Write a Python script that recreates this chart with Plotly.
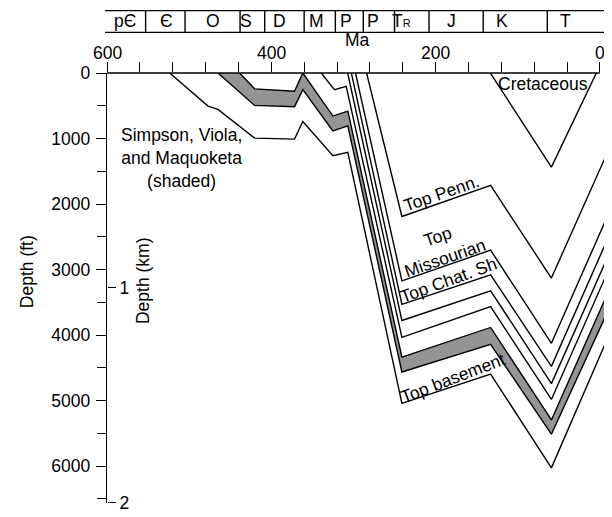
import plotly.graph_objects as go

# ---------------- data (Ma, depth in ft) ----------------
cret_age = [133.3, 59, 4.3]
cret_depth = [0, 1437, 0]

penn_age = [284, 241, 133, 59, -8]
penn_depth = [0, 2190, 1716, 3130, 1246]

missourian_age = [297.5, 241, 133, 59, -8]
missourian_depth = [0, 3174, 2704, 4126, 2219]

chat_age = [302.5, 241, 133, 59, -8]
chat_depth = [0, 3531, 3082, 4478, 2572]

mid1_age = [307, 241, 133, 59, -8]
mid1_depth = [0, 3778, 3324, 4741, 2850]

mid2_age = [339.2, 323.1, 308.8, 241, 133, 59, -8]
mid2_depth = [0, 253, 203, 4035, 3566, 4983, 3077]

shade_top_age = [438.6, 420.3, 371.7, 361.6, 325, 306.8, 241, 133, 59, -8]
shade_top_depth = [0, 242, 278, 0, 657, 581, 4337, 3884, 5295, 3404]

shade_bot_age = [465, 420.3, 371.7, 361.6, 325, 306.8, 241, 133, 59, -8]
shade_bot_depth = [0, 495, 514, 253, 884, 808, 4564, 4141, 5513, 3682]

base_age = [523.7, 477, 465, 420.3, 371.7, 361.6, 325, 306.8, 241, 133, 59, -8]
base_depth = [0, 505, 555, 994, 1009, 741, 1262, 1210, 5044, 4595, 6027, 4088]

# geologic time scale
period_bounds = [553, 505, 438, 408, 360, 322, 288, 250, 208, 142, 64]
period_labels = ["p\u0404", "\u0404", "O", "S", "D", "M", "P", "P",
                 "T<span style='font-size:11px'>R</span>", "J", "K", "T"]
period_label_pos = [578.5, 527.7, 471, 430.3, 389.8, 344.4, 308.6, 276.6,
                    241.4, 180.5, 118.6, 41.3]

age_ticks = [600, 400, 200, 0]
FT_PER_KM = 3280.84
ft_ticks = [0, 1000, 2000, 3000, 4000, 5000, 6000]
km_ticks = [1, 2]

# ---------------- figure ----------------
FONT = "Liberation Sans, Arial, Helvetica, sans-serif"
FS = 17.5
LW = 1.4
SHADE = "#949494"

fig = go.Figure()

# shaded band (Simpson, Viola, Maquoketa)
fig.add_trace(go.Scatter(
    x=shade_top_age + shade_bot_age[::-1],
    y=shade_top_depth + shade_bot_depth[::-1],
    mode="lines", fill="toself", fillcolor=SHADE,
    line=dict(width=0), hoverinfo="skip", showlegend=False))

for ages, depths in [(cret_age, cret_depth), (penn_age, penn_depth),
                     (missourian_age, missourian_depth), (chat_age, chat_depth),
                     (mid1_age, mid1_depth), (mid2_age, mid2_depth),
                     (shade_top_age, shade_top_depth), (shade_bot_age, shade_bot_depth),
                     (base_age, base_depth)]:
    fig.add_trace(go.Scatter(x=ages, y=depths, mode="lines",
                             line=dict(color="black", width=LW),
                             showlegend=False, hoverinfo="skip"))

# km axis helper trace
fig.add_trace(go.Scatter(x=[None], y=[None], yaxis="y2", showlegend=False))

# page body has an 8px margin; figure is sized to fit the 612x517 window
OFF = 8
W, H = 612 - OFF, 517 - OFF
ML, MR, MT, MB = 107 - OFF, W - (608 - OFF), 73 - OFF, H - (507 - OFF)
pw, ph = W - ML - MR, H - MT - MB

def py(page_y):  # page pixel y -> paper y
    return 1 - (page_y - OFF - MT) / ph

def pxp(page_x):  # page pixel x -> paper x
    return (page_x - OFF - ML) / pw

y_max_km = 2.0005
y_max_ft = y_max_km * FT_PER_KM

fig.update_layout(
    width=W, height=H,
    margin=dict(l=ML, r=MR, t=MT, b=MB, pad=0),
    paper_bgcolor="white", plot_bgcolor="white",
    font=dict(family=FONT, size=FS, color="black"),
    xaxis=dict(side="top", range=[600, -9.9], showgrid=False, zeroline=False,
               showline=False, tickmode="linear", tick0=0, dtick=200,
               ticks="outside", ticklen=10, tickwidth=1.4, tickcolor="black",
               showticklabels=False,
               minor=dict(dtick=40, tick0=0, ticks="outside", ticklen=10,
                          tickwidth=1.4, tickcolor="black")),
    yaxis=dict(range=[y_max_ft, 0], showgrid=False, zeroline=False,
               showline=True, linecolor="black", linewidth=1.4,
               tickmode="array", tickvals=ft_ticks,
               ticks="outside", ticklen=10, tickwidth=1.4, tickcolor="black",
               ticklabelstandoff=2,
               minor=dict(dtick=500, tick0=0, ticks="outside", ticklen=9,
                          tickwidth=1.4, tickcolor="black"),
               tickfont=dict(size=FS)),
    yaxis2=dict(range=[y_max_km, 0], overlaying="y", side="right",
                anchor="free", position=0, showgrid=False, zeroline=False,
                showline=False, tickmode="array", tickvals=km_ticks,
                ticks="outside", ticklen=8, tickwidth=1.4, tickcolor="black",
                ticklabeloverflow="allow",
                tickfont=dict(size=FS)),
)

shapes = []
# top axis line from 600 to 0 Ma
shapes.append(dict(type="line", xref="x", yref="paper", x0=600, x1=0, y0=1, y1=1,
                   line=dict(color="black", width=1.4)))
# time scale bar
bar_top, bar_bot = py(10), py(32)
for yy in (bar_top, bar_bot):
    shapes.append(dict(type="line", xref="paper", yref="paper",
                       x0=pxp(105), x1=pxp(612), y0=yy, y1=yy,
                       line=dict(color="black", width=1.4)))
for b in period_bounds:
    shapes.append(dict(type="line", xref="x", yref="paper", x0=b, x1=b,
                       y0=bar_bot, y1=bar_top, line=dict(color="black", width=1.4)))
fig.update_layout(shapes=shapes)

C = dict(showarrow=False, xanchor="center", yanchor="middle")
ann = []
for lab, pos in zip(period_labels, period_label_pos):
    ann.append(dict(text=lab, x=pos, xref="x", y=py(21), yref="paper", **C))
for t in age_ticks:
    ann.append(dict(text=str(t), x=t, xref="x", y=py(53), yref="paper", **C))
ann += [
    dict(text="Ma", x=pxp(357), y=py(40), xref="paper", yref="paper", **C),
    dict(text="Depth (ft)", x=pxp(27), y=py(274), xref="paper", yref="paper",
         textangle=-90, **C),
    dict(text="Depth (km)", x=pxp(143), y=py(283), xref="paper", yref="paper",
         textangle=-90, **C),
    dict(text="Cretaceous", x=69.3, y=166, xref="x", yref="y", **C),
    dict(text="Simpson, Viola,<br>and Maquoketa<br>(shaded)", x=509.9, y=1300,
         xref="x", yref="y", align="center", **C),
    dict(text="Top Penn.", x=192.2, y=1829, xref="x", yref="y", textangle=-19, **C),
    dict(text="Top<br>Missourian", x=193.4, y=2661, xref="x", yref="y",
         textangle=-19, align="center", **C),
    dict(text="Top Chat. Sh", x=183.7, y=3160, xref="x", yref="y", textangle=-20, **C),
    dict(text="Top basement", x=178.8, y=4657, xref="x", yref="y", textangle=-21, **C),
]
fig.update_layout(annotations=ann)

fig.write_html("out.html")
